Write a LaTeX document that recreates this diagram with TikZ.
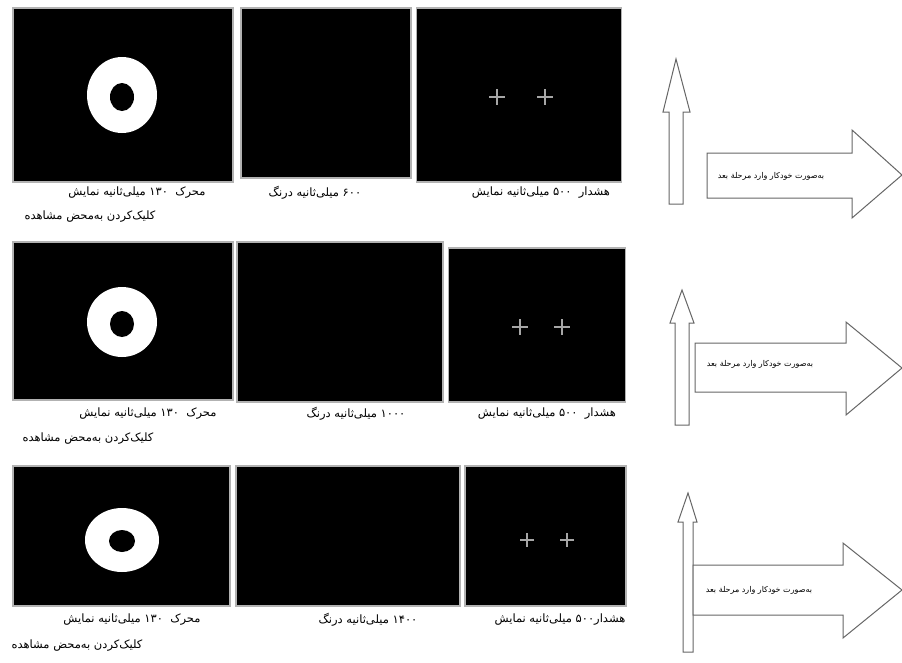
\documentclass[tikz,border=0pt]{standalone}
\usepackage{fontspec}
\newfontfamily\farsi[Script=Arabic]{DejaVu Sans}
\TeXXeTstate=1
\usetikzlibrary{positioning}
\newcommand{\fa}[1]{{\farsi\beginR #1\endR}}
\newcommand{\num}[1]{\beginL #1\endL}

\begin{document}
\begin{tikzpicture}[x=1pt, y=-1pt,
  screen/.style={draw=gray!60, line width=1.2pt, fill=black, inner sep=0pt},
  lbl/.style={font=\fontsize{11.5}{13}\selectfont, inner sep=0pt},
  tag/.style={font=\fontsize{8}{9}\selectfont, inner sep=0pt},
  ring/.style={fill=white},
  fix/.style={draw=gray!70, line width=1.2pt},
  blk/.style={draw=gray!80!black, line width=1pt, fill=white, line join=miter}
]
  \useasboundingbox (0,0) rectangle (902,662);
  % row 1
  \node[screen, minimum width=220pt, minimum height=174pt] (s1a) at (123,95) {};
  \node[screen, minimum width=170pt, minimum height=170pt] (s1b) at (326,93) {};
  \node[screen, minimum width=205pt, minimum height=174pt] (s1c) at (519,95) {};
  \fill[ring] (122,95) ellipse [x radius=35, y radius=38];
  \fill[black] (122,97) ellipse [x radius=12, y radius=14];
  \foreach \cx in {497,545}
    \draw[fix] (\cx-8,97) -- (\cx+8,97) (\cx,89) -- (\cx,105);
  \node[lbl] (l1a) at (137,193) {\fa{محرک \ \num{۱۳۰} میلی‌ثانیه نمایش}};
  \node[lbl] (l1b) at (315,193) {\fa{\num{۶۰۰} میلی‌ثانیه درنگ}};
  \node[lbl] (l1c) at (541,193) {\fa{هشدار \ \num{۵۰۰} میلی‌ثانیه نمایش}};
  \node[lbl] (l1d) at (90,217) {\fa{کلیک‌کردن به‌محض مشاهده}};
  % row 2
  \node[screen, minimum width=220pt, minimum height=158pt] (s2a) at (123,321) {};
  \node[screen, minimum width=206pt, minimum height=160pt] (s2b) at (340,322) {};
  \node[screen, minimum width=177pt, minimum height=154pt] (s2c) at (537,325) {};
  \fill[ring] (122,322) ellipse [x radius=35, y radius=35];
  \fill[black] (122,324) ellipse [x radius=12, y radius=13];
  \foreach \cx in {520,562}
    \draw[fix] (\cx-8,327) -- (\cx+8,327) (\cx,319) -- (\cx,335);
  \node[lbl] (l2a) at (148,414) {\fa{محرک \ \num{۱۳۰} میلی‌ثانیه نمایش}};
  \node[lbl] (l2b) at (356,414) {\fa{\num{۱۰۰۰} میلی‌ثانیه درنگ}};
  \node[lbl] (l2c) at (547,414) {\fa{هشدار \ \num{۵۰۰} میلی‌ثانیه نمایش}};
  \node[lbl] (l2d) at (88,439) {\fa{کلیک‌کردن به‌محض مشاهده}};
  % row 3
  \node[screen, minimum width=217pt, minimum height=140pt] (s3a) at (121.5,536) {};
  \node[screen, minimum width=224pt, minimum height=140pt] (s3b) at (348,536) {};
  \node[screen, minimum width=161pt, minimum height=140pt] (s3c) at (545.5,536) {};
  \fill[ring] (122,540) ellipse [x radius=37, y radius=32];
  \fill[black] (122,541) ellipse [x radius=13, y radius=11];
  \foreach \cx in {527,567}
    \draw[fix] (\cx-7,540) -- (\cx+7,540) (\cx,533) -- (\cx,547);
  \node[lbl] (l3a) at (132,620) {\fa{محرک \ \num{۱۳۰} میلی‌ثانیه نمایش}};
  \node[lbl] (l3b) at (368,620) {\fa{\num{۱۴۰۰} میلی‌ثانیه درنگ}};
  \node[lbl] (l3c) at (560,620) {\fa{هشدار\num{۵۰۰} میلی‌ثانیه نمایش}};
  \node[lbl] (l3d) at (77,646) {\fa{کلیک‌کردن به‌محض مشاهده}};
  % block arrows
  \draw[blk] (669,204) -- (669,112) -- (663,112) -- (676,59) -- (690,112)
    -- (683,112) -- (683,204) -- cycle;
  \draw[blk] (707,153) -- (852,153) -- (852,130) -- (902,175) -- (852,218)
    -- (852,198) -- (707,198) -- cycle;
  \node[tag] (n1) at (771,176) {\fa{به‌صورت خودکار وارد مرحلة بعد}};
  \draw[blk] (675,425) -- (675,323) -- (670,323) -- (682,290) -- (694,323)
    -- (689,323) -- (689,425) -- cycle;
  \draw[blk] (695,343) -- (846,343) -- (846,322) -- (902,368) -- (846,415)
    -- (846,392) -- (695,392) -- cycle;
  \node[tag] (n2) at (760,364) {\fa{به‌صورت خودکار وارد مرحلة بعد}};
  \draw[blk] (683,652) -- (683,522) -- (678,522) -- (688,493) -- (697,522)
    -- (693,522) -- (693,652) -- cycle;
  \draw[blk] (693,565) -- (843,565) -- (843,543) -- (902,590) -- (843,638)
    -- (843,615) -- (693,615) -- cycle;
  \node[tag] (n3) at (759,590) {\fa{به‌صورت خودکار وارد مرحلة بعد}};
\end{tikzpicture}
\end{document}
